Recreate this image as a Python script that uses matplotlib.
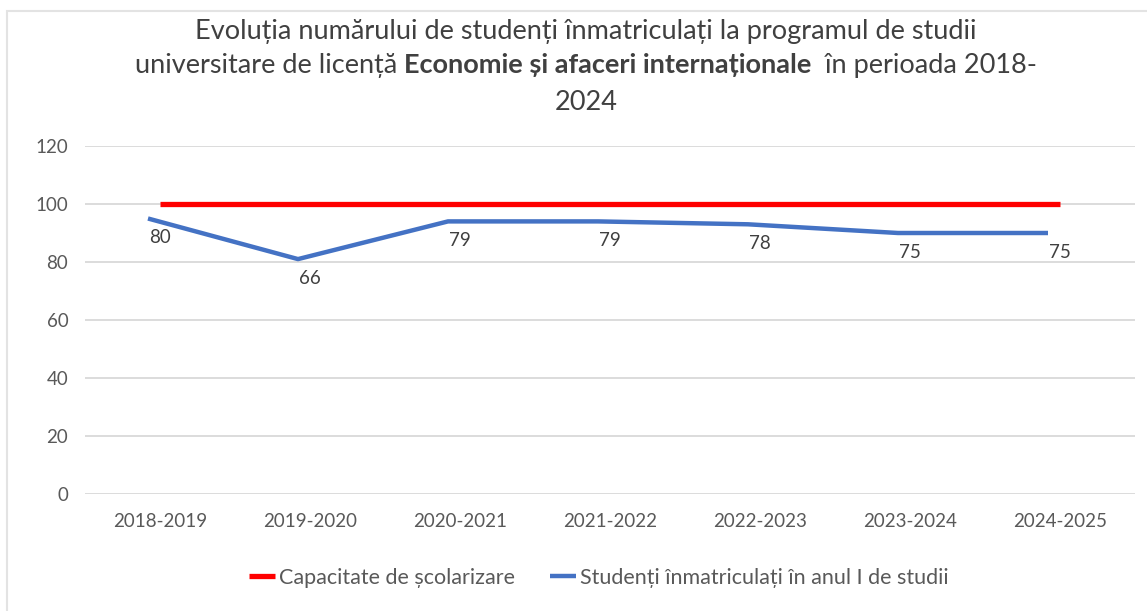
import matplotlib.pyplot as plt
from matplotlib.patches import Rectangle

years = ['2018-2019', '2019-2020', '2020-2021', '2021-2022', '2022-2023', '2023-2024', '2024-2025']
capacity = [100, 100, 100, 100, 100, 100, 100]
enrolled = [80, 66, 79, 79, 78, 75, 75]

plt.rcParams['font.family'] = ['Lato', 'DejaVu Sans']

fig = plt.figure(figsize=(11.47, 6.11), dpi=100)
fig.patches.append(Rectangle((7 / 1147, -0.05), 1.2, 1 - 11 / 611 + 0.05, transform=fig.transFigure,
                             facecolor='white', edgecolor='#e3e3e3', linewidth=1.5, zorder=-5))

ax = fig.add_axes([85 / 1147, 1 - 494 / 611, 1050 / 1147, 348 / 611])
ax.patch.set_alpha(0)
x = list(range(len(years)))
ax.plot(x, capacity, color='#ff0000', linewidth=3.8, solid_capstyle='butt', label='Capacitate de școlarizare')
ax.set_xlim(-0.5, len(years) - 0.5)
ax.set_ylim(0, 120)
ax.set_yticks(range(0, 121, 20))
ax.set_xticks(x)
ax.set_xticklabels(years)
ax.grid(axis='y', color='#d9d9d9', linewidth=1.3)
ax.set_axisbelow(True)
for s in ax.spines.values():
    s.set_visible(False)
ax.tick_params(length=0, colors='#595959', labelsize=13.5)
ax.tick_params(axis='y', pad=12)
ax.tick_params(axis='x', pad=14)

# enrolled series sits on a second (hidden) scale
ax2 = fig.add_axes(ax.get_position(), frameon=False)
ax2.plot(x, enrolled, color='#4472c4', linewidth=3.2, solid_capstyle='butt', label='Studenți înmatriculați în anul I de studii')
ax2.set_xlim(-0.5 + 0.08, len(years) - 0.5 + 0.08)
ax2.set_ylim(-15, 105)
ax2.axis('off')
for xi, v in zip(x, enrolled):
    ax2.annotate(str(v), (xi, v), xytext=(12, -19), textcoords='offset pixels',
                 ha='center', va='center', fontsize=13.5, color='#404040')

h1, l1 = ax.get_legend_handles_labels()
h2, l2 = ax2.get_legend_handles_labels()
fig.legend(h1 + h2, l1 + l2, loc='center', bbox_to_anchor=(599 / 1147, 1 - 578 / 611), ncol=2,
           frameon=False, fontsize=15.5, labelcolor='#595959', handlelength=1.2, columnspacing=1.6,
           handletextpad=0.2)

# title with a bold part in the middle line
tc = '#404040'
fs = 19.5
cx = 586 / 1147
fig.text(cx, 1 - 31 / 611, 'Evoluția numărului de studenți înmatriculați la programul de studii',
         ha='center', va='center', fontsize=fs, color=tc)
fig.text(cx, 1 - 102 / 611, '2024', ha='center', va='center', fontsize=fs, color=tc)
parts = [('universitare de licență ', 'normal'), ('Economie și afaceri internaționale', 'bold'),
         ('  în perioada 2018-', 'normal')]
r = fig.canvas.get_renderer()
texts = []
for s, w in parts:
    t = fig.text(0, 1 - 65 / 611, s, ha='left', va='center', fontsize=fs, color=tc, fontweight=w)
    texts.append(t)
widths = [t.get_window_extent(r).width / fig.bbox.width for t in texts]
pos = cx - sum(widths) / 2
for t, w in zip(texts, widths):
    t.set_x(pos)
    pos += w

fig.savefig('out.png', dpi=100)
